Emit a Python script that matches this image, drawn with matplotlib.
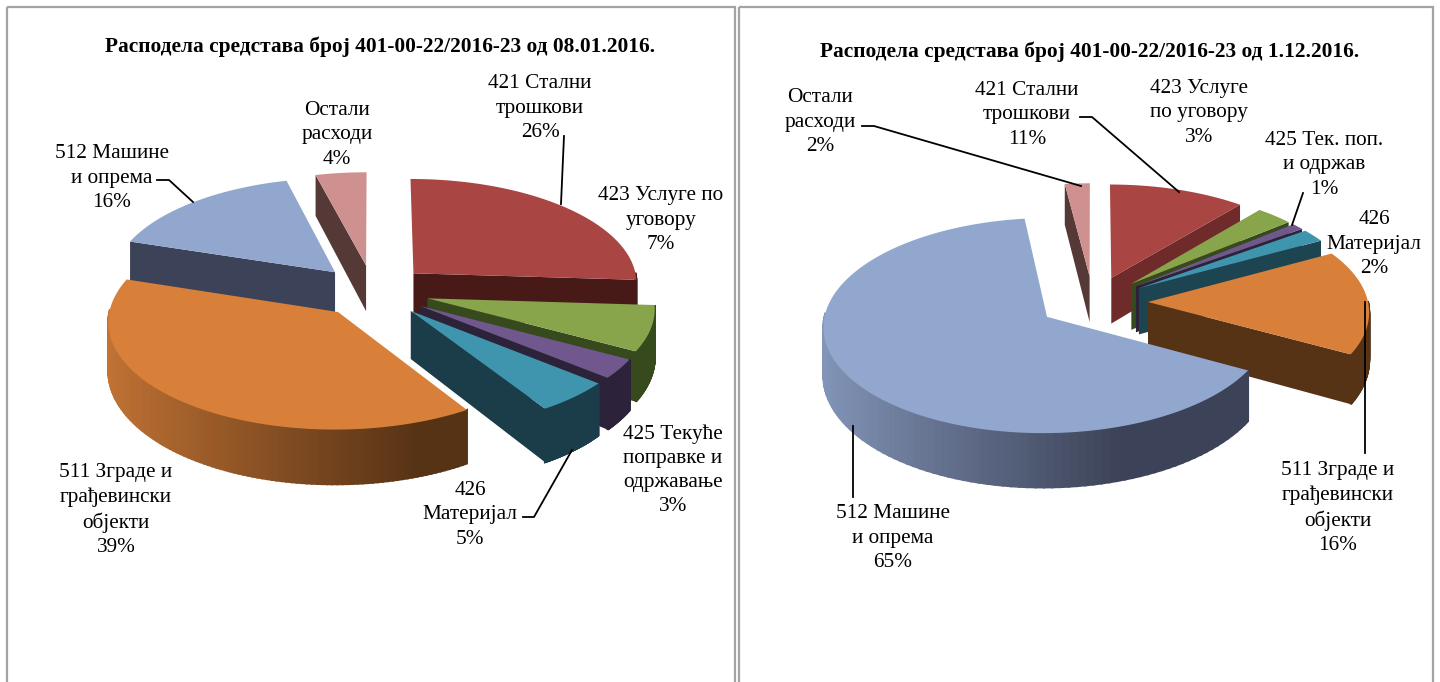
import numpy as np
import matplotlib
matplotlib.use('Agg')
import matplotlib.pyplot as plt
from matplotlib.colors import to_rgb
from matplotlib.patches import Rectangle

plt.rcParams['font.family'] = ['Liberation Serif', 'DejaVu Serif']

# data
left_title = 'Расподела средстава број 401-00-22/2016-23 од 08.01.2016.'
right_title = 'Расподела средстава број 401-00-22/2016-23 од 1.12.2016.'
left_values = [26, 7, 3, 5, 39, 16, 4]
right_values = [11, 3, 1, 2, 16, 65, 2]
left_labels = ['421 Стални\nтрошкови\n26%', '423 Услуге по\nуговору\n7%',
               '425 Текуће\nпоправке и\nодржавање\n3%', '426\nМатеријал\n5%',
               '511 Зграде и\nграђевински\nобјекти\n39%', '512 Машине\nи опрема\n16%',
               'Остали\nрасходи\n4%']
right_labels = ['421 Стални\nтрошкови\n11%', '423 Услуге\nпо уговору\n3%',
                '425 Тек. поп.\nи одржав\n1%', '426\nМатеријал\n2%',
                '511 Зграде и\nграђевински\nобјекти\n16%', '512 Машине\nи опрема\n65%',
                'Остали\nрасходи\n2%']

# colours
top_colors = ['#a94543', '#89a54c', '#70578d', '#3f95ae', '#d8803a', '#92a7ce', '#cf9190']
left_sides = ['#471a18', '#374a1e', '#2c2239', '#1a3d49', '#573316', '#3c4358', '#543937']
right_sides = ['#6f2b2a', '#374a1e', '#2c2239', '#1d4551', '#573316', '#3c4358', '#543937']

# label centres, pixels
left_label_pos = [(540, 108), (661, 220), (673, 470), (470, 515), (116, 510), (112, 178), (337, 135)]
right_label_pos = [(1027, 115), (1199, 113), (1324, 165), (1374, 244), (1338, 508), (893, 538), (820, 122)]

# leader lines, pixels
left_leaders = [[(564, 136), (561, 204)],
                [(523, 517), (534, 517), (572, 450)],
                [(157, 180), (169, 180), (193, 202)]]
right_leaders = [[(862, 126), (874, 126), (1081, 186)],
                 [(1080, 117), (1092, 117), (1179, 192)],
                 [(1303, 193), (1292, 225)],
                 [(1365, 302), (1365, 453)],
                 [(853, 426), (853, 497)]]

# pie look
PERSP = 0.08
EXPLODE = 0.25
DEPTH = 47


def project(x, y, cx, cy, scale, tilt):
    f = 1 / (1 + PERSP * y)
    return cx + scale * x * f, cy - scale * tilt * y * f, DEPTH * f ** 1.5


def draw_pie(ax, values, sides, cx, cy, scale, tilt):
    values = np.array(values, dtype=float)
    ends = np.cumsum(values) / values.sum() * 360
    starts = ends - values / values.sum() * 360
    mids = (starts + ends) / 2
    # back slices first, the front ones cover them
    order = np.argsort(-np.cos(np.radians(mids)))
    for i in order:
        a, b = np.radians(starts[i]), np.radians(ends[i])
        m = np.radians(mids[i])
        ex, ey = EXPLODE * np.sin(m), EXPLODE * np.cos(m)
        t = np.linspace(a, b, 120)
        arc_x, arc_y, arc_d = project(ex + np.sin(t), ey + np.cos(t), cx, cy, scale, tilt)
        tip_x, tip_y, tip_d = project(ex, ey, cx, cy, scale, tilt)
        dark = np.array(to_rgb(sides[i]))
        base = np.array(to_rgb(top_colors[i]))

        # flat sides of the slice that face the viewer
        if np.sin(a) < 0:
            ax.fill([tip_x, arc_x[0], arc_x[0], tip_x],
                    [tip_y, arc_y[0], arc_y[0] + arc_d[0], tip_y + tip_d],
                    color=dark, lw=0)
        if np.sin(b) > 0:
            ax.fill([tip_x, arc_x[-1], arc_x[-1], tip_x],
                    [tip_y, arc_y[-1], arc_y[-1] + arc_d[-1], tip_y + tip_d],
                    color=dark, lw=0)

        # outer wall, light on the left going dark to the right
        for j in range(len(t) - 1):
            if np.cos(t[j]) > 0.01:
                continue
            s = np.clip((np.sin(t[j]) + 1) / 1.33, 0, 1)
            c = base * 0.9 * (1 - s) + dark * s
            ax.fill([arc_x[j], arc_x[j + 1], arc_x[j + 1], arc_x[j]],
                    [arc_y[j], arc_y[j + 1], arc_y[j + 1] + arc_d[j + 1], arc_y[j] + arc_d[j]],
                    color=c, lw=1.5)

        ax.fill(np.r_[tip_x, arc_x], np.r_[tip_y, arc_y], color=base, lw=0)


fig = plt.figure(figsize=(14.4, 6.82), dpi=100)
ax = fig.add_axes([0, 0, 1, 1])
ax.set_xlim(0, 1440)
ax.set_ylim(682, 0)
ax.axis('off')

# panel frames
ax.add_patch(Rectangle((6.5, 7), 728, 700, fill=False, ec='#a3a3a3', lw=1.6))
ax.add_patch(Rectangle((739, 7), 694, 700, fill=False, ec='#a3a3a3', lw=1.6))

draw_pie(ax, left_values, left_sides, 373, 291, 225, 0.465)
draw_pie(ax, right_values, right_sides, 1093, 302, 220, 0.475)

for line in left_leaders + right_leaders:
    ax.plot([p[0] for p in line], [p[1] for p in line], color='black', lw=1.3)

ax.text(380, 47, left_title, ha='center', va='center', fontsize=15.4, fontweight='bold')
ax.text(1090, 52, right_title, ha='center', va='center', fontsize=15.4, fontweight='bold')

for text, pos in zip(left_labels + right_labels, left_label_pos + right_label_pos):
    ax.text(pos[0], pos[1], text, ha='center', va='center', fontsize=15.3, linespacing=1.36)

fig.savefig('out.png', dpi=100)
